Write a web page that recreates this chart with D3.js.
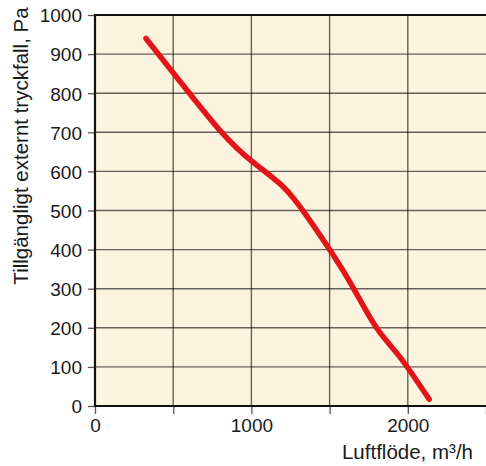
<!DOCTYPE html>
<html><head><meta charset="utf-8">
<script src="https://cdn.jsdelivr.net/npm/d3@7"></script>
<style>body{margin:0;background:#fff}svg{display:block}text{font-family:"Liberation Sans",Arial,Helvetica,sans-serif;fill:#1a1a1a}</style>
</head><body>
<script>
const flow = [326, 600, 810, 1000, 1200, 1350, 1500, 1650, 1800, 1950, 2137];
const pressure = [940, 802, 700, 627, 562, 488, 400, 303, 200, 125, 17];
const xTicks = [0, 500, 1000, 1500, 2000, 2500];
const xTickLabels = ["0", "", "1000", "", "2000", ""];
const yTicks = [0, 100, 200, 300, 400, 500, 600, 700, 800, 900, 1000];
const xTitle = "Luftflöde, m³/h";
const yTitle = "Tillgängligt externt tryckfall, Pa";

const W = 486, H = 466;
const FONT = '"Liberation Sans",Arial,Helvetica,sans-serif';
const svg = d3.select("body").append("svg").attr("width", W).attr("height", H);
const x = d3.scaleLinear().domain([0, 2500]).range([95, 486]);
const y = d3.scaleLinear().domain([0, 1000]).range([406, 15]);

svg.append("rect").attr("x", x(0)).attr("y", y(1000)).attr("width", x(2500) - x(0)).attr("height", y(0) - y(1000)).attr("fill", "#fdf4e0");

// grid
svg.append("g").selectAll("line").data(yTicks.slice(1, -1)).join("line")
  .attr("x1", x(0)).attr("x2", x(2500)).attr("y1", d => y(d)).attr("y2", d => y(d))
  .attr("stroke", "#000").attr("stroke-opacity", 0.6).attr("stroke-width", 1.4);
svg.append("g").selectAll("line").data(xTicks.slice(1, -1)).join("line")
  .attr("y1", y(0)).attr("y2", y(1000)).attr("x1", d => x(d)).attr("x2", d => x(d))
  .attr("stroke", "#000").attr("stroke-opacity", 0.6).attr("stroke-width", 1.4);

// axes
const xAxis = d3.axisBottom(x).tickValues(xTicks).tickSize(8)
  .tickFormat((d, i) => xTickLabels[i]);
const gx = svg.append("g").attr("transform", `translate(0,${y(0)})`).call(xAxis);
gx.attr("font-family", FONT).attr("font-size", 19);
gx.select(".domain").remove();
gx.selectAll(".tick line").attr("stroke", "#555").attr("stroke-width", 1.3);
gx.selectAll("text").attr("y", 26).attr("dy", 0).attr("fill", "#1a1a1a");

const yAxis = d3.axisLeft(y).tickValues(yTicks).tickSize(7).tickFormat(d3.format("d"));
const gy = svg.append("g").attr("transform", `translate(${x(0)},0)`).call(yAxis);
gy.attr("font-family", FONT).attr("font-size", 19);
gy.select(".domain").remove();
gy.selectAll(".tick line").attr("stroke", "#555").attr("stroke-width", 1.3);
gy.selectAll("text").attr("x", -13).attr("dy", "0.36em").attr("fill", "#1a1a1a");

// frame lines
svg.append("line").attr("x1", x(0)).attr("x2", x(2500)).attr("y1", y(0)).attr("y2", y(0)).attr("stroke", "#111").attr("stroke-width", 2.2);
svg.append("line").attr("x1", x(0)).attr("x2", x(2500)).attr("y1", y(1000)).attr("y2", y(1000)).attr("stroke", "#111").attr("stroke-width", 2.2);
svg.append("line").attr("x1", x(0)).attr("x2", x(0)).attr("y1", y(0) + 1).attr("y2", y(1000) - 1).attr("stroke", "#111").attr("stroke-width", 2.2);

// curve
const pts = flow.map((f, i) => [f, pressure[i]]);
svg.append("path").datum(pts)
  .attr("d", d3.line().x(d => x(d[0])).y(d => y(d[1])).curve(d3.curveNatural))
  .attr("fill", "none").attr("stroke", "#e31419").attr("stroke-width", 5.5).attr("stroke-linecap", "round").attr("stroke-linejoin", "round");

// titles
svg.append("text").attr("x", 473).attr("y", 459).attr("text-anchor", "end").attr("font-size", 20.5).text(xTitle);
svg.append("text").attr("transform", "translate(28,146) rotate(-90)").attr("text-anchor", "middle").attr("font-size", 20.5).text(yTitle);
</script>
</body></html>
